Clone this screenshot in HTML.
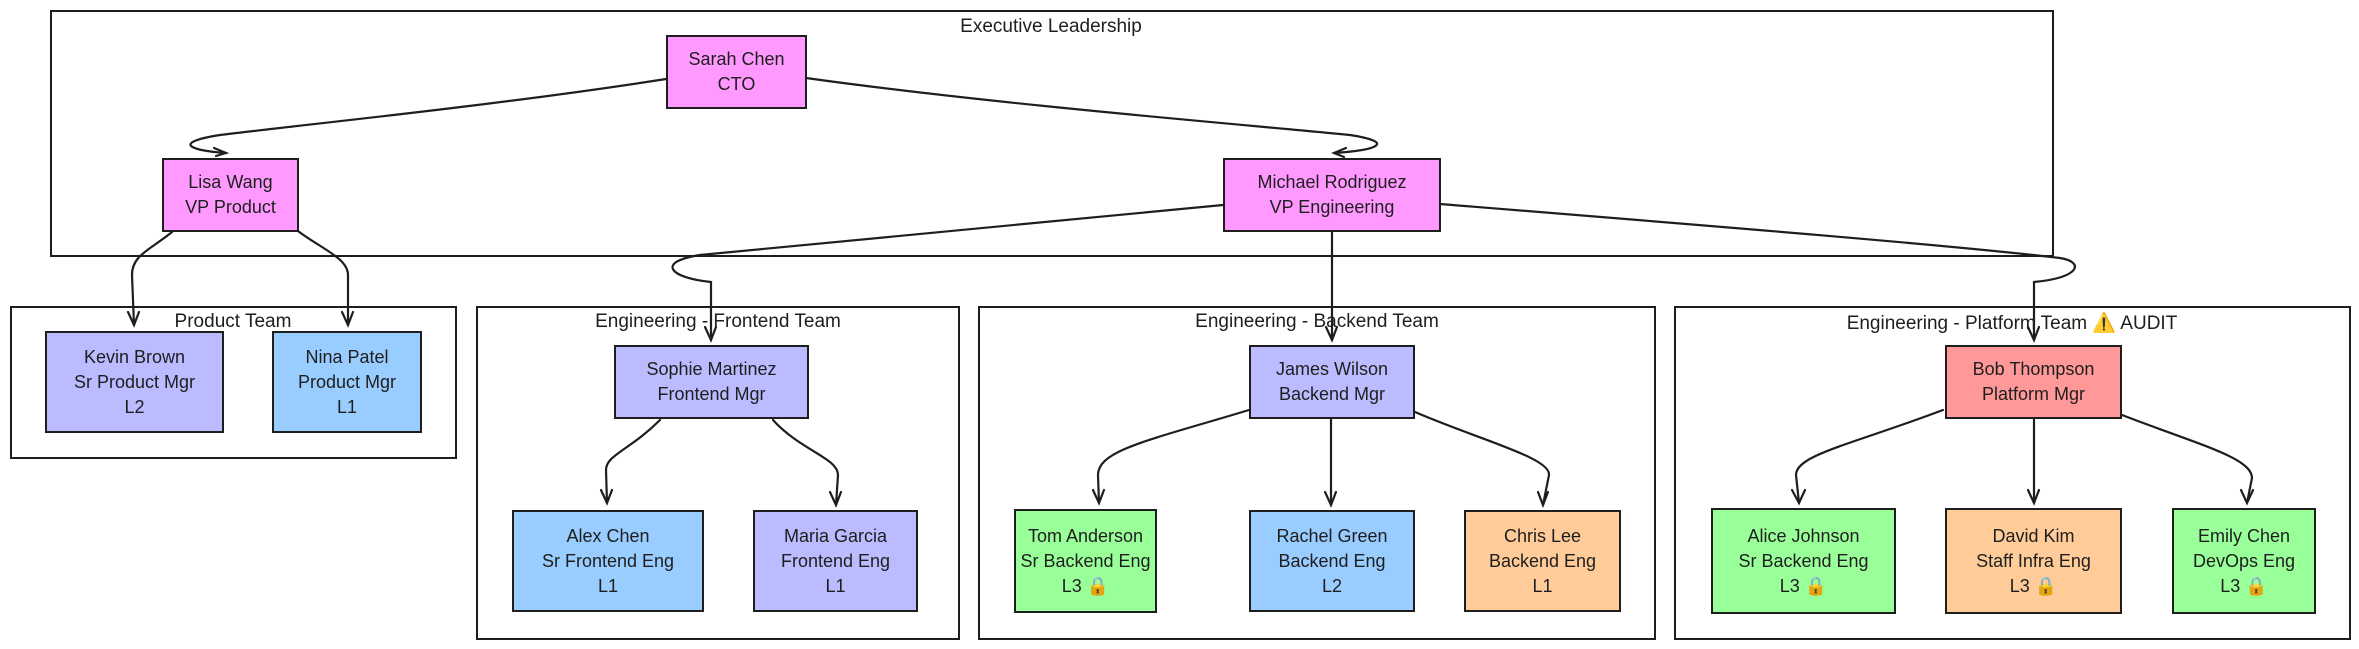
<!DOCTYPE html>
<html><head><meta charset="utf-8"><style>
body{margin:0;background:#fff;width:2359px;height:649px;position:relative;overflow:hidden;font-family:"Liberation Sans","DejaVu Sans",sans-serif;}
.g{position:absolute;border:2px solid #1e1e1e;box-sizing:border-box;}
.t{position:absolute;font-size:19px;color:#1e1e1e;white-space:nowrap;transform:translateX(-50%);}
.n{position:absolute;border:2px solid #1e1e1e;box-sizing:border-box;display:flex;align-items:center;justify-content:center;text-align:center;font-size:18px;line-height:25px;color:#1e1e1e;}
.pk{background:#ff99ff}.pu{background:#bbbbff}.bl{background:#99ccff}.gr{background:#99ff99}.or{background:#ffcc99}.rd{background:#ff9999}
svg{position:absolute;left:0;top:0}
</style></head><body>
<div class="g" style="left:50px;top:10px;width:2004px;height:247px"></div>
<div class="t" style="left:1051px;top:16px">Executive Leadership</div>
<div class="g" style="left:10px;top:306px;width:447px;height:153px"></div>
<div class="t" style="left:233px;top:311px">Product Team</div>
<div class="g" style="left:476px;top:306px;width:484px;height:334px"></div>
<div class="t" style="left:718px;top:311px">Engineering - Frontend Team</div>
<div class="g" style="left:978px;top:306px;width:678px;height:334px"></div>
<div class="t" style="left:1317px;top:311px">Engineering - Backend Team</div>
<div class="g" style="left:1674px;top:306px;width:677px;height:334px"></div>
<div class="t" style="left:2012px;top:311px">Engineering - Platform Team ⚠️ AUDIT</div>

<div class="n pk" style="left:666px;top:35px;width:141px;height:74px">Sarah Chen<br>CTO</div>
<div class="n pk" style="left:162px;top:158px;width:137px;height:74px">Lisa Wang<br>VP Product</div>
<div class="n pk" style="left:1223px;top:158px;width:218px;height:74px">Michael Rodriguez<br>VP Engineering</div>
<div class="n pu" style="left:45px;top:331px;width:179px;height:102px">Kevin Brown<br>Sr Product Mgr<br>L2</div>
<div class="n bl" style="left:272px;top:331px;width:150px;height:102px">Nina Patel<br>Product Mgr<br>L1</div>
<div class="n pu" style="left:614px;top:345px;width:195px;height:74px">Sophie Martinez<br>Frontend Mgr</div>
<div class="n pu" style="left:1249px;top:345px;width:166px;height:74px">James Wilson<br>Backend Mgr</div>
<div class="n rd" style="left:1945px;top:345px;width:177px;height:74px">Bob Thompson<br>Platform Mgr</div>
<div class="n bl" style="left:512px;top:510px;width:192px;height:102px">Alex Chen<br>Sr Frontend Eng<br>L1</div>
<div class="n pu" style="left:753px;top:510px;width:165px;height:102px">Maria Garcia<br>Frontend Eng<br>L1</div>
<div class="n gr" style="left:1014px;top:509px;width:143px;height:104px">Tom Anderson<br>Sr Backend Eng<br>L3 🔒</div>
<div class="n bl" style="left:1249px;top:510px;width:166px;height:102px">Rachel Green<br>Backend Eng<br>L2</div>
<div class="n or" style="left:1464px;top:510px;width:157px;height:102px">Chris Lee<br>Backend Eng<br>L1</div>
<div class="n gr" style="left:1711px;top:508px;width:185px;height:106px">Alice Johnson<br>Sr Backend Eng<br>L3 🔒</div>
<div class="n or" style="left:1945px;top:508px;width:177px;height:106px">David Kim<br>Staff Infra Eng<br>L3 🔒</div>
<div class="n gr" style="left:2172px;top:508px;width:144px;height:106px">Emily Chen<br>DevOps Eng<br>L3 🔒</div>

<svg width="2359" height="649" fill="none" stroke="#1e1e1e" stroke-width="2.2" stroke-linecap="round">
<path d="M666,79 C500,105 300,125 220,135 C175,142 185,150 226,153"/><path d="M214,148 L226,153 L216,156"/>
<path d="M806,78 C1000,105 1250,125 1350,135 C1395,142 1380,150 1334,153"/><path d="M1346,148 L1334,153 L1344,157"/>
<path d="M172,232 C150,250 132,255 132,275 L134,325"/><path d="M128,312 L134,325 L139,312"/>
<path d="M298,231 C320,248 348,258 348,275 L348,325"/><path d="M342,312 L348,325 L353,312"/>
<path d="M1223,205 C1000,225 800,245 700,255 C655,262 670,278 711,282 L711,340"/><path d="M705,327 L711,340 L716,327"/>
<path d="M1332,231 L1332,340"/><path d="M1326,327 L1332,340 L1337,327"/>
<path d="M1440,204 C1700,225 1950,245 2060,258 C2085,262 2080,278 2034,282 L2034,340"/><path d="M2028,327 L2034,340 L2039,327"/>
<path d="M660,420 C630,450 606,455 606,470 L607,503"/><path d="M601,490 L607,503 L612,490"/>
<path d="M773,420 C800,450 838,458 838,475 L836,505"/><path d="M830,492 L836,505 L841,492"/>
<path d="M1249,410 C1150,440 1098,450 1098,475 L1099,503"/><path d="M1093,490 L1099,503 L1104,490"/>
<path d="M1331,419 L1331,505"/><path d="M1325,492 L1331,505 L1336,492"/>
<path d="M1415,412 C1480,440 1551,458 1549,475 L1543,505"/><path d="M1538,492 L1543,505 L1548,492"/>
<path d="M1943,410 C1850,445 1796,455 1796,475 L1799,503"/><path d="M1792,490 L1799,503 L1805,490"/>
<path d="M2034,419 L2034,503"/><path d="M2028,490 L2034,503 L2039,490"/>
<path d="M2122,415 C2200,445 2252,458 2252,478 L2247,503"/><path d="M2241,490 L2247,503 L2253,490"/>
</svg>
</body></html>
